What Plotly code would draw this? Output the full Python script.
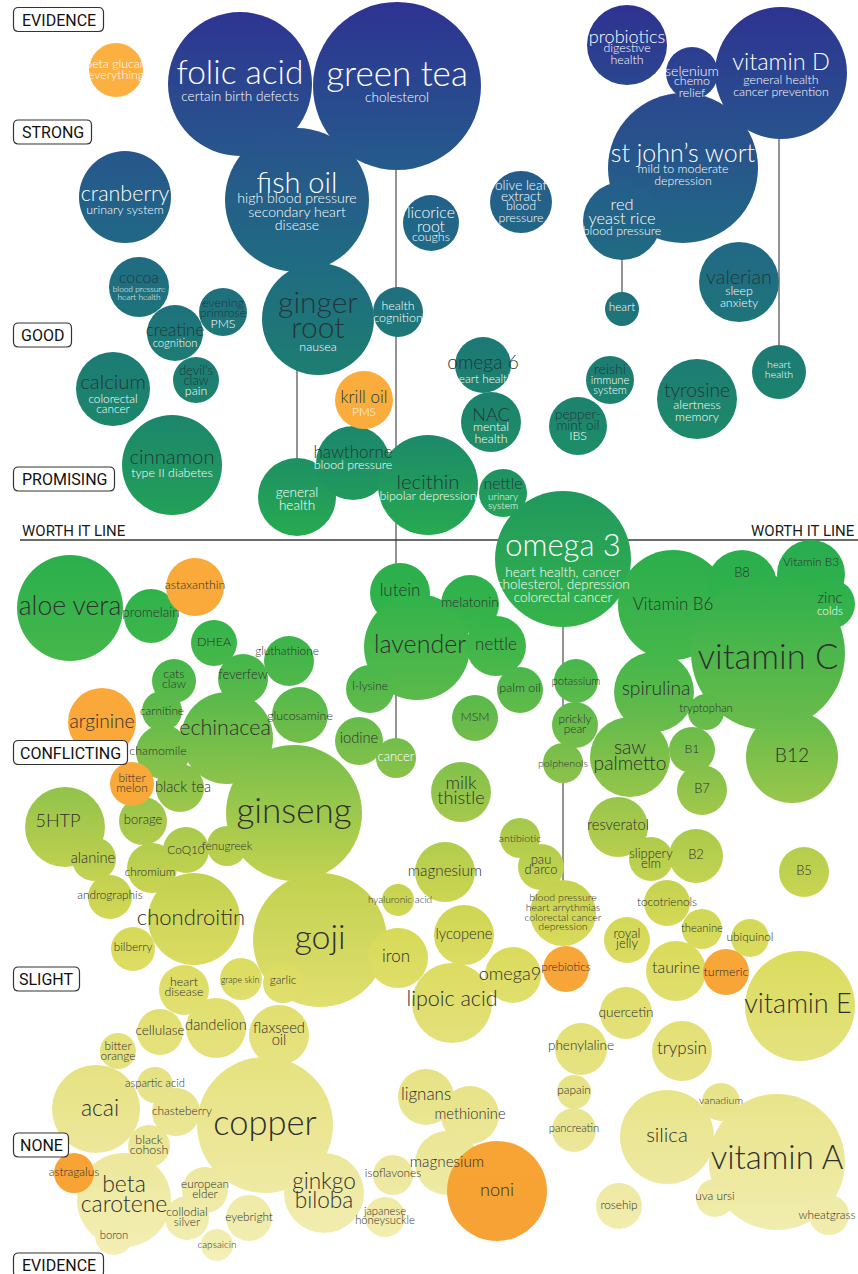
import plotly.graph_objects as go

W, H = 858, 1274

# ---------------- DATA ----------------
# (supplement, claim, x, evidence_y, popularity_radius)
STRONG = [
    ("beta glucan", "everything", 116, 70, 27),
    ("folic acid", "certain birth defects", 240, 84, 72),
    ("green tea", "cholesterol", 397, 86, 84),
    ("probiotics", "digestive<br>health", 627, 45, 40),
    ("selenium", "chemo<br>relief", 692, 73, 26),
    ("vitamin D", "general health<br>cancer prevention", 781, 73, 66),
    ("st john’s wort", "mild to moderate<br>depression", 683, 168, 75),
    ("fish oil", "high blood pressure<br>secondary heart<br>disease", 297, 200, 72),
    ("cranberry", "urinary system", 125, 197, 46),
    ("olive leaf<br>extract", "blood<br>pressure", 521, 202, 31),
    ("licorice<br>root", "coughs", 431, 223, 28),
    ("red<br>yeast rice", "blood pressure", 622, 221, 39),
]
GOOD = [
    ("cocoa", "blood pressure<br>heart health", 139, 287, 30),
    ("evening<br>primrose", "PMS", 223, 312, 24),
    ("creatine", "cognition", 175, 333, 28),
    ("ginger<br>root", "nausea", 318, 319, 56),
    ("", "health<br>cognition", 398, 312, 25),
    ("", "heart", 622, 309, 17),
    ("valerian", "sleep<br>anxiety", 739, 282, 40),
    ("", "heart<br>health", 779, 372, 27),
    ("omega 6", "heart health", 483, 365, 28),
    ("calcium", "colorectal<br>cancer", 113, 389, 37),
    ("devil's<br>claw", "pain", 196, 380, 23),
    ("reishi", "immune<br>system", 610, 380, 24),
    ("krill oil", "PMS", 364, 400, 29),
    ("NAC", "mental<br>health", 491, 422, 30),
    ("pepper-<br>mint oil", "IBS", 578, 426, 29),
    ("tyrosine", "alertness<br>memory", 697, 399, 40),
]
PROMISING = [
    ("cinnamon", "type II diabetes", 172, 465, 50),
    ("", "general<br>health", 297, 497, 39),
    ("hawthorne", "blood pressure", 353, 463, 37),
    ("lecithin", "bipolar depression", 428, 485, 50),
    ("nettle", "urinary<br>system", 503, 493, 24),
    ("omega 3", "heart health, cancer<br>cholesterol, depression<br>colorectal cancer", 563, 559, 68),
]
CONFLICTING = [
    ("aloe vera", "", 70, 608, 53),
    ("promelain", "", 151, 616, 27),
    ("astaxanthin", "", 195, 587, 29),
    ("lutein", "", 400, 593, 30),
    ("melatonin", "", 470, 604, 29),
    ("lavender", "", 417, 647, 53),
    ("nettle", "", 496, 646, 30),
    ("Vitamin B6", "", 673, 605, 55),
    ("B8", "", 742, 585, 35),
    ("Vitamin B3", "", 811, 574, 34),
    ("zinc", "colds", 830, 604, 25),
    ("vitamin C", "", 768, 653, 77),
    ("DHEA", "", 214, 643, 23),
    ("gluthathione", "", 289, 661, 25),
    ("cats<br>claw", "", 174, 681, 22),
    ("feverfew", "", 243, 679, 25),
    ("l-lysine", "", 370, 689, 24),
    ("glucosamine", "", 300, 715, 28),
    ("carnitine", "", 162, 711, 20),
    ("echinacea", "", 227, 738, 46),
    ("arginine", "", 102, 722, 34),
    ("palm oil", "", 520, 690, 23),
    ("MSM", "", 475, 718, 23),
    ("potassium", "", 576, 681, 22),
    ("spirulina", "", 654, 692, 40),
    ("tryptophan", "", 706, 712, 18),
    ("prickly<br>pear", "", 575, 725, 23),
    ("iodine", "", 359, 741, 24),
    ("", "cancer", 396, 758, 20),
    ("chamomile", "", 163, 752, 27),
    ("polphenols", "", 563, 763, 20),
    ("saw<br>palmetto", "", 630, 757, 40),
    ("B1", "", 692, 750, 23),
    ("B12", "", 792, 757, 46),
    ("bitter<br>melon", "", 132, 784, 22),
    ("black tea", "", 180, 788, 24),
    ("milk<br>thistle", "", 461, 792, 30),
    ("B7", "", 702, 790, 25),
    ("borage", "", 143, 821, 24),
    ("ginseng", "", 294, 813, 68),
    ("5HTP", "", 65, 827, 40),
    ("antibiotic", "", 520, 838, 20),
    ("resveratol", "", 618, 827, 30),
    ("CoQ10", "", 186, 850, 23),
    ("fenugreek", "", 227, 846, 20),
    ("alanine", "", 94, 859, 22),
    ("pau<br>d'arco", "", 541, 867, 23),
    ("slippery<br>elm", "", 651, 859, 22),
    ("B2", "", 696, 856, 27),
    ("chromium", "", 152, 868, 25),
]
SLIGHT = [
    ("magnesium", "", 445, 872, 30),
    ("B5", "", 804, 872, 25),
    ("andrographis", "", 110, 897, 22),
    ("hyaluronic acid", "", 398, 900, 16),
    ("", "blood pressure<br>heart arrythmias<br>colorectal cancer<br>depression", 563, 913, 33),
    ("tocotrienols", "", 667, 903, 23),
    ("chondroitin", "", 194, 919, 46),
    ("goji", "", 320, 940, 67),
    ("lycopene", "", 464, 935, 30),
    ("theanine", "", 702, 929, 20),
    ("ubiquinol", "", 750, 938, 19),
    ("bilberry", "", 133, 949, 22),
    ("iron", "", 398, 958, 30),
    ("royal<br>jelly", "", 627, 940, 23),
    ("heart<br>disease", "", 184, 990, 25),
    ("grape skin", "", 241, 979, 21),
    ("garlic", "", 283, 983, 20),
    ("prebiotics", "", 566, 969, 23),
    ("omega9", "", 513, 975, 28),
    ("taurine", "", 676, 971, 30),
    ("turmeric", "", 726, 972, 23),
    ("vitamin E", "", 800, 1006, 55),
    ("lipoic acid", "", 452, 1003, 40),
    ("cellulase", "", 160, 1032, 23),
    ("dandelion", "", 216, 1028, 30),
    ("flaxseed<br>oil", "", 279, 1035, 30),
    ("quercetin", "", 626, 1013, 26),
    ("bitter<br>orange", "", 118, 1051, 18),
    ("phenylaline", "", 581, 1049, 26),
    ("trypsin", "", 682, 1051, 30),
]
NO_EVIDENCE = [
    ("aspartic acid", "", 155, 1085, 18),
    ("lignans", "", 426, 1097, 28),
    ("methionine", "", 470, 1115, 29),
    ("papain", "", 574, 1092, 17),
    ("acai", "", 96, 1109, 44),
    ("chasteberry", "", 176, 1112, 24),
    ("copper", "", 265, 1125, 68),
    ("pancreatin", "", 574, 1130, 22),
    ("silica", "", 667, 1137, 47),
    ("vanadium", "", 721, 1102, 19),
    ("vitamin A", "", 777, 1162, 68),
    ("black<br>cohosh", "", 149, 1146, 21),
    ("magnesium", "", 447, 1163, 32),
    ("astragalus", "", 74, 1173, 20),
    ("isoflavones", "", 393, 1175, 20),
    ("noni", "", 497, 1191, 50),
    ("beta<br>carotene", "", 124, 1200, 47),
    ("european<br>elder", "", 205, 1190, 23),
    ("ginkgo<br>biloba", "", 324, 1193, 40),
    ("collodial<br>silver", "", 187, 1218, 22),
    ("eyebright", "", 249, 1218, 23),
    ("japanese<br>honeysuckle", "", 385, 1217, 20),
    ("rosehip", "", 619, 1206, 23),
    ("uva ursi", "", 715, 1198, 19),
    ("wheatgrass", "", 829, 1215, 20),
    ("boron", "", 114, 1236, 19),
    ("capsaicin", "", 217, 1245, 16),
]
HIGHLIGHTED = ["beta glucan", "krill oil", "astaxanthin", "arginine", "bitter<br>melon",
               "prebiotics", "turmeric", "astragalus", "noni"]

# supplement -> secondary claim bubble (linked by a thin line)
CONNECTORS = [("green tea", "cancer"), ("ginger<br>root", "general<br>health"),
              ("red<br>yeast rice", "heart"), ("vitamin D", "heart<br>health"),
              ("omega 3", "blood pressure<br>heart arrythmias<br>colorectal cancer<br>depression")]

LEVELS = ["EVIDENCE", "STRONG", "GOOD", "PROMISING", "CONFLICTING", "SLIGHT", "NONE", "EVIDENCE"]
LEVEL_Y = [19.5, 132, 335, 479, 752.5, 979, 1145, 1265]
WORTH_IT_Y = 540

# ---------------- STYLE ----------------
LEVEL_BOX_W = [90, 78, 58, 101, 114, 66, 55, 90]

# key -> (name size, dx, dy, claim size, claim dy); sizes are the reference line heights
STYLE = {
    "beta glucan": (10.5, 0, -5, 10.5, 6),
    "folic acid": (32, 0, -8, 11.5, 14),
    "green tea": (33, 0, -9, 11.5, 13),
    "probiotics": (16, 0, -7, 10.5, 10),
    "selenium": (12.5, 0, -1, 10.5, 15),
    "vitamin D": (22, 0, -9, 10.5, 14),
    "st john’s wort": (23, 0, -12, 10.5, 8),
    "fish oil": (28, 0, -14, 12.5, 13),
    "cranberry": (19, 0, -1, 10.5, 14),
    "olive leaf<br>extract": (12, 0, -10, 10.5, 11),
    "licorice<br>root": (14, 0, -2, 10.5, 15),
    "red<br>yeast rice": (14.5, 0, -8, 10.5, 11),
    "cocoa": (14, 0, -8, 7, 7),
    "evening<br>primrose": (10.5, 0, -3, 10.5, 13),
    "creatine": (15, 0, -1, 9.5, 11),
    "ginger<br>root": (26, 0, -1, 10.5, 29),
    "health<br>cognition": (10, 0, 0, 10.5, 1),
    "heart": (10, 0, 0, 10, -1),
    "valerian": (17.5, 0, -3, 10.5, 16),
    "heart<br>health": (10, 0, 0, 9, -2),
    "omega 6": (17, 0, -1, 10, 15),
    "calcium": (18, 0, -5, 10, 16),
    "devil's<br>claw": (11, 0, -3, 10.5, 12),
    "reishi": (12.5, 0, -10, 9.5, 6),
    "krill oil": (15, 0, -1, 10, 13),
    "NAC": (16, 0, -6, 10.5, 12),
    "pepper-<br>mint oil": (11.5, 0, -5, 10.5, 11),
    "tyrosine": (17, 0, -7, 10.5, 13),
    "cinnamon": (18, 0, -6, 10.5, 9),
    "general<br>health": (10, 0, 0, 11.5, 3),
    "hawthorne": (15, 0, -9, 10.5, 3),
    "lecithin": (18, 0, -1, 10.5, 12),
    "nettle|urinary<br>system": (14, 0, -8, 8.5, 9),
    "omega 3": (28, 0, -11, 11.5, 27),
    "aloe vera": (23, 0, 0, 0, 0),
    "promelain": (12, 0, -2, 0, 0),
    "astaxanthin": (10.5, 0, -1, 0, 0),
    "lutein": (15, 0, -1, 0, 0),
    "melatonin": (11.5, 0, 0, 0, 0),
    "lavender": (21, 3, 0, 0, 0),
    "nettle": (15, 0, 0, 0, 0),
    "Vitamin B6": (15, 0, 1, 0, 0),
    "B8": (11, 0, -11, 0, 0),
    "Vitamin B3": (10, 0, -11, 0, 0),
    "zinc": (13, 0, -5, 10, 8),
    "vitamin C": (32, 0, 7, 0, 0),
    "DHEA": (10.5, 0, 0, 0, 0),
    "gluthathione": (10, -2, -9, 0, 0),
    "cats<br>claw": (10.5, 0, -1, 0, 0),
    "feverfew": (11, 0, -3, 0, 0),
    "l-lysine": (10, 0, -2, 0, 0),
    "glucosamine": (10.5, 0, 2, 0, 0),
    "carnitine": (10, 0, 1, 0, 0),
    "echinacea": (19, -2, -8, 0, 0),
    "arginine": (17, 0, 1, 0, 0),
    "palm oil": (10.5, 0, -1, 0, 0),
    "MSM": (10.5, 0, 0, 0, 0),
    "potassium": (9.5, 0, 1, 0, 0),
    "spirulina": (17, 2, -2, 0, 0),
    "tryptophan": (9.5, 0, -3, 0, 0),
    "prickly<br>pear": (10, 0, 0, 0, 0),
    "iodine": (13, 0, -2, 0, 0),
    "cancer": (10, 0, 0, 11, 0),
    "chamomile": (10.5, -5, 0, 0, 0),
    "polphenols": (9, 0, 1, 0, 0),
    "saw<br>palmetto": (17, 0, 0, 0, 0),
    "B1": (10.5, 0, 0, 0, 0),
    "B12": (17, 0, 0, 0, 0),
    "bitter<br>melon": (10, 0, 0, 0, 0),
    "black tea": (13, 3, 0, 0, 0),
    "milk<br>thistle": (16, 0, 0, 0, 0),
    "B7": (11, 0, 0, 0, 0),
    "borage": (11, 0, 0, 0, 0),
    "ginseng": (30, 0, 1, 0, 0),
    "5HTP": (16, -7, -5, 0, 0),
    "antibiotic": (9, 0, 1, 0, 0),
    "resveratol": (13, 0, -1, 0, 0),
    "CoQ10": (10, 0, 1, 0, 0),
    "fenugreek": (10, 0, 1, 0, 0),
    "alanine": (13, -1, 0, 0, 0),
    "pau<br>d'arco": (11, 0, -1, 0, 0),
    "slippery<br>elm": (11, 0, 1, 0, 0),
    "B2": (11, 0, 0, 0, 0),
    "chromium": (10, -2, 5, 0, 0),
    "magnesium": (13.5, 0, 0, 0, 0),
    "B5": (11, 0, 0, 0, 0),
    "andrographis": (10, 0, -1, 0, 0),
    "hyaluronic acid": (8.5, 2, 0, 0, 0),
    "blood pressure<br>heart arrythmias<br>colorectal cancer<br>depression": (10, 0, 0, 9, 0),
    "tocotrienols": (10, 0, 0, 0, 0),
    "chondroitin": (19.5, -3, 0, 0, 0),
    "goji": (34, 0, 0, 0, 0),
    "lycopene": (13, 0, 0, 0, 0),
    "theanine": (9.5, 0, 0, 0, 0),
    "ubiquinol": (10, 0, 0, 0, 0),
    "bilberry": (10, 0, -1, 0, 0),
    "iron": (15, -2, 0, 0, 0),
    "royal<br>jelly": (11, 0, 0, 0, 0),
    "heart<br>disease": (10.5, 0, -2, 0, 0),
    "grape skin": (7.5, -1, 2, 0, 0),
    "garlic": (10, 0, -2, 0, 0),
    "prebiotics": (10, 0, -1, 0, 0),
    "omega9": (16, -3, 0, 0, 0),
    "taurine": (14, 0, -2, 0, 0),
    "turmeric": (10.5, 0, 1, 0, 0),
    "vitamin E": (26, -2, 0, 0, 0),
    "lipoic acid": (19, 0, -2, 0, 0),
    "cellulase": (12, 0, 0, 0, 0),
    "dandelion": (13, 0, -2, 0, 0),
    "flaxseed<br>oil": (13, 0, 0, 0, 0),
    "quercetin": (12, 0, 1, 0, 0),
    "bitter<br>orange": (10, 0, 1, 0, 0),
    "phenylaline": (12, 0, -2, 0, 0),
    "trypsin": (15, 0, -1, 0, 0),
    "aspartic acid": (9.5, 0, -1, 0, 0),
    "lignans": (15, 0, -1, 0, 0),
    "methionine": (13, 0, 0, 0, 0),
    "papain": (10, 0, -1, 0, 0),
    "acai": (21, 4, 1, 0, 0),
    "chasteberry": (10, 6, 0, 0, 0),
    "copper": (30, 0, 1, 0, 0),
    "pancreatin": (9.5, 0, -1, 0, 0),
    "silica": (18, 0, 0, 0, 0),
    "vanadium": (9, 0, -1, 0, 0),
    "vitamin A": (31, 0, -1, 0, 0),
    "black<br>cohosh": (10.5, 0, 0, 0, 0),
    "astragalus": (10, 0, 0, 0, 0),
    "isoflavones": (10, 0, -1, 0, 0),
    "noni": (16, 0, 0, 0, 0),
    "beta<br>carotene": (21, 0, -4, 0, 0),
    "european<br>elder": (10, 0, 0, 0, 0),
    "ginkgo<br>biloba": (20, 0, 0, 0, 0),
    "collodial<br>silver": (10, 0, 0, 0, 0),
    "eyebright": (10, 0, 0, 0, 0),
    "japanese<br>honeysuckle": (9.5, 0, 0, 0, 0),
    "rosehip": (10, 0, 0, 0, 0),
    "uva ursi": (10, 0, -1, 0, 0),
    "wheatgrass": (10, -2, 1, 0, 0),
    "boron": (9.5, 0, 0, 0, 0),
    "capsaicin": (8.5, 0, 0, 0, 0),
}
# explicit font sizes for the biggest names (font is narrower than the original)
BIG_FONT = {"folic acid": 33.5, "green tea": 35, "fish oil": 29, "st john’s wort": 25,
            "vitamin D": 23.5, "omega 3": 31, "ginger<br>root": 30, "vitamin C": 34.5,
            "ginseng": 35, "goji": 34, "copper": 34.5, "vitamin A": 33, "vitamin E": 27,
            "lavender": 25, "aloe vera": 26.5, "beta<br>carotene": 23, "acai": 23}

COLOR_STOPS = [
    (0, "#2e3192"), (100, "#2b4a8f"), (200, "#23628a"), (280, "#1f6e80"),
    (350, "#1d7a74"), (430, "#1c886b"), (500, "#209a5c"), (545, "#29ae4d"),
    (620, "#33b44a"), (680, "#4fb84a"), (740, "#72bd4a"), (800, "#98c54b"),
    (860, "#bccf4e"), (930, "#d7da56"), (1000, "#e1df6e"), (1100, "#e8e48c"),
    (1200, "#efeaa6"), (1274, "#f5f1bb"),
]
ORANGE_STOPS = [(0, "#fbb140"), (1274, "#f7a234")]

FONT = "Lato, 'Open Sans', sans-serif"
LABEL_FONT = "Roboto, 'DejaVu Sans', sans-serif"
DARK_TEAL_TEXT = "#22373a"
DARK_TEXT = "#2f2f2f"
NAME_LEAD, CLAIM_LEAD = 0.95, 1.08


def font_px(size):
    if size < 12:
        return size * 1.18
    if size <= 22:
        return size * 1.13
    return size * 1.06


def hex_rgb(h):
    h = h.lstrip("#")
    return tuple(int(h[i:i + 2], 16) for i in (0, 2, 4))


def color_at(y, stops):
    y = max(stops[0][0], min(stops[-1][0], y))
    for (y0, c0), (y1, c1) in zip(stops[:-1], stops[1:]):
        if y0 <= y <= y1:
            t = (y - y0) / (y1 - y0) if y1 > y0 else 0
            a, b = hex_rgb(c0), hex_rgb(c1)
            return "rgb(%d,%d,%d)" % tuple(round(a[i] + (b[i] - a[i]) * t) for i in range(3))
    return stops[-1][1]


def style_for(name, claim):
    for k in (f"{name}|{claim}", name, claim):
        if k and k in STYLE:
            return STYLE[k]
    return (10, 0, 0, 10, 0)


bubbles = STRONG + GOOD + PROMISING + CONFLICTING + SLIGHT + NO_EVIDENCE

fig = go.Figure()

# connector lines (drawn below the bubbles)
lookup = {}
for name, claim, x, y, r in bubbles:
    lookup.setdefault(name or claim, (x, y, r))
for parent, child in CONNECTORS:
    px_, py_, _ = lookup[parent]
    cx_, cy_, _ = lookup[child]
    fig.add_shape(type="line", x0=cx_, x1=cx_, y0=py_, y1=cy_, xref="x", yref="y",
                  line=dict(color="#5a5a5a", width=1.3), layer="below")

# worth-it line
fig.add_shape(type="line", x0=20, x1=W, y0=WORTH_IT_Y, y1=WORTH_IT_Y, xref="x", yref="y",
              line=dict(color="#3a3a3a", width=1.3), layer="below")

for group, stops in (("normal", COLOR_STOPS), ("orange", ORANGE_STOPS)):
    sel = [b for b in bubbles if (b[0] in HIGHLIGHTED) == (group == "orange")]
    fig.add_trace(go.Scatter(
        x=[b[2] for b in sel], y=[b[3] for b in sel], mode="markers", hoverinfo="skip",
        marker=dict(size=[2 * b[4] for b in sel], sizemode="diameter", opacity=1,
                    color=[color_at(b[3] - b[4], stops) for b in sel],
                    gradient=dict(type="vertical", color=[color_at(b[3] + b[4], stops) for b in sel]),
                    line=dict(width=0)),
    ))

# texts, one point per line for tight leading
tx, ty, tt, ts, tc = [], [], [], [], []


def add_block(text, x, y, size, px, color, lead):
    lines = text.split("<br>")
    n = len(lines)
    for i, ln in enumerate(lines):
        tx.append(x)
        ty.append(y + (i - (n - 1) / 2) * size * lead)
        tt.append(ln)
        ts.append(px)
        tc.append(color)


for name, claim, x, y, r in bubbles:
    ns, dx, dy, cs, cdy = style_for(name, claim)
    above = y < WORTH_IT_Y
    if name:
        if name == "omega 3" or y < 260:
            ncol = "white"
        elif above:
            ncol = DARK_TEAL_TEXT
        else:
            ncol = DARK_TEXT
        add_block(name, x + dx, y + dy, ns, BIG_FONT.get(name, font_px(ns)), ncol, NAME_LEAD)
    if claim:
        if above or name in ("omega 3", "zinc") or claim == "cancer":
            ccol = "white"
        else:
            ccol = DARK_TEXT
        add_block(claim, x + dx, y + cdy, cs, font_px(cs), ccol, CLAIM_LEAD)

fig.add_trace(go.Scatter(x=tx, y=ty, text=tt, mode="text", hoverinfo="skip",
                         textposition="middle center",
                         textfont=dict(family=FONT, size=ts, color=tc, weight=300)))

# evidence level boxes
for lab, ly, bw in zip(LEVELS, LEVEL_Y, LEVEL_BOX_W):
    x0, x1, y0, y1, rr = 13.5, 13.5 + bw, ly - 12, ly + 12, 5
    path = (f"M {x0+rr},{y0} L {x1-rr},{y0} Q {x1},{y0} {x1},{y0+rr} L {x1},{y1-rr} "
            f"Q {x1},{y1} {x1-rr},{y1} L {x0+rr},{y1} Q {x0},{y1} {x0},{y1-rr} "
            f"L {x0},{y0+rr} Q {x0},{y0} {x0+rr},{y0} Z")
    fig.add_shape(type="path", path=path, xref="x", yref="y", fillcolor="white",
                  line=dict(color="#333333", width=1.2), layer="above")
    fig.add_annotation(x=(x0 + x1) / 2, y=ly + 0.5, text=lab, showarrow=False, xref="x", yref="y",
                       font=dict(family=LABEL_FONT, size=16, color="#111111"))

fig.add_annotation(x=20, y=WORTH_IT_Y - 9, text="WORTH IT LINE", showarrow=False, xanchor="left",
                   xref="x", yref="y", font=dict(family=LABEL_FONT, size=15, color="#1a1a1a"))
fig.add_annotation(x=857, y=WORTH_IT_Y - 9, text="WORTH IT LINE", showarrow=False, xanchor="right",
                   xref="x", yref="y", font=dict(family=LABEL_FONT, size=15, color="#1a1a1a"))

fig.update_layout(
    width=W, height=H, margin=dict(l=0, r=0, t=0, b=0),
    paper_bgcolor="white", plot_bgcolor="white", showlegend=False,
    xaxis=dict(range=[0, W], visible=False, fixedrange=True),
    yaxis=dict(range=[H, 0], visible=False, fixedrange=True),
)

fig.write_html("out.html", config={"displayModeBar": False},
               post_script="document.body.style.margin='0';document.body.style.overflow='hidden';")
